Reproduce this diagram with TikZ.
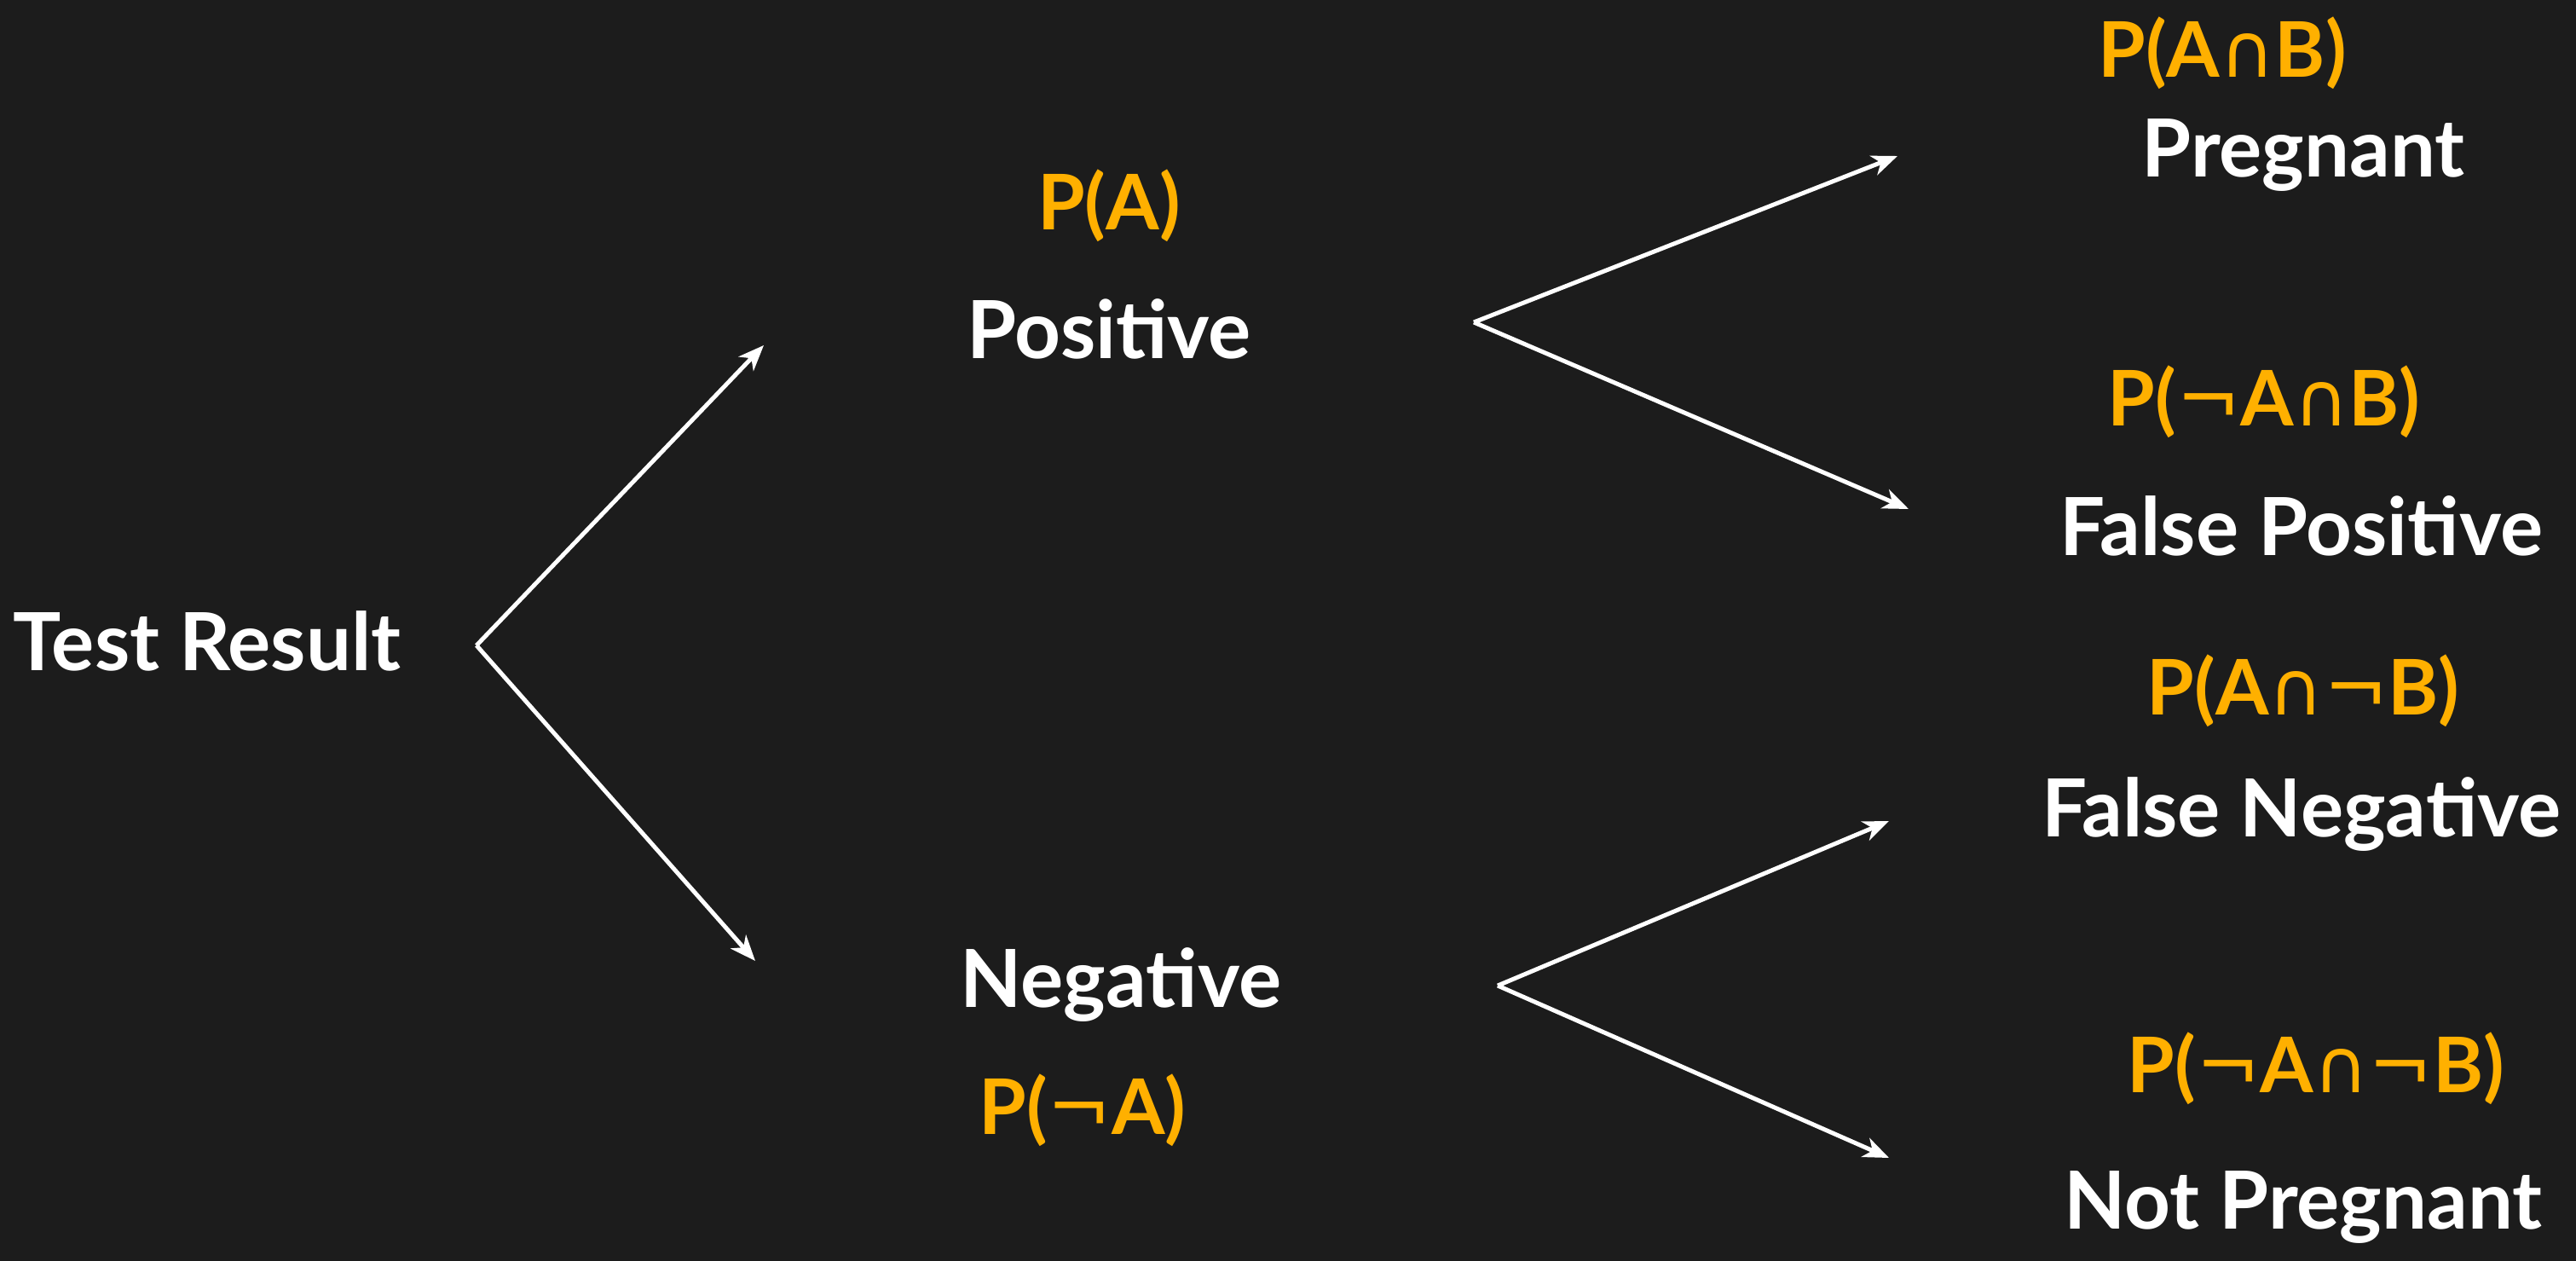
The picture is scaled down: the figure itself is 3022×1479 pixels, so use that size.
\documentclass[tikz,border=0pt]{standalone}
\usepackage{fontspec}
\setmainfont{Lato}
\newfontfamily\symf{DejaVu Sans}
\usetikzlibrary{arrows.meta}
\definecolor{board}{HTML}{1C1C1C}
\definecolor{chalkorange}{HTML}{FFB000}
\newcommand\mycap{{\symf\mdseries\fontsize{88}{90}\selectfont ∩}}
\newcommand\myneg{{\symf\mdseries\fontsize{90}{90}\selectfont ¬}}
\begin{document}
\begin{tikzpicture}[x=1pt,y=-1pt,
  wtext/.style={text=white,font=\fontsize{94}{110}\selectfont\bfseries,anchor=base,inner sep=0pt},
  otext/.style={text=chalkorange,font=\fontsize{90}{110}\selectfont\bfseries,anchor=base,inner sep=0pt},
  arr/.style={draw=white,line width=5pt,-{Stealth[length=30pt,width=24pt,inset=9pt]}}]
\fill[board] (0,0) rectangle (3022,1479);
\useasboundingbox (0,0) rectangle (3022,1479);
% nodes
\node[wtext] (tr) at (243,786) {Test Result};
\node[otext] (pa) at (1301,270) {P(A)};
\node[wtext] (pos) at (1301,420) {Positive};
\node[wtext] (neg) at (1315,1181) {Negative};
\node[otext] (pna) at (1270,1330) {P(\myneg A)};
\node[otext] (pab) at (2607,91) {P(A\mycap B)};
\node[wtext] (preg) at (2702,208) {Pregnant};
\node[otext] (pnab) at (2656,499) {P(\myneg A\mycap B)};
\node[wtext] (fp) at (2700,651) {False Positive};
\node[otext] (panb) at (2702,838) {P(A\mycap\myneg B)};
\node[wtext] (fn) at (2700,981) {False Negative};
\node[otext] (pnanb) at (2717,1281) {P(\myneg A\mycap\myneg B)};
\node[wtext] (np) at (2702,1441) {Not Pregnant};
% connector points
\coordinate (r0) at (559,757);
\coordinate (r1) at (896,405);
\coordinate (r2) at (886,1127);
\coordinate (p0) at (1729,378);
\coordinate (p1) at (2226,183);
\coordinate (p2) at (2239,597);
\coordinate (n0) at (1757,1156);
\coordinate (n1) at (2216,963);
\coordinate (n2) at (2216,1358);
\draw[arr] (r0) -- (r1);
\draw[arr] (r0) -- (r2);
\draw[arr] (p0) -- (p1);
\draw[arr] (p0) -- (p2);
\draw[arr] (n0) -- (n1);
\draw[arr] (n0) -- (n2);
\end{tikzpicture}
\end{document}
